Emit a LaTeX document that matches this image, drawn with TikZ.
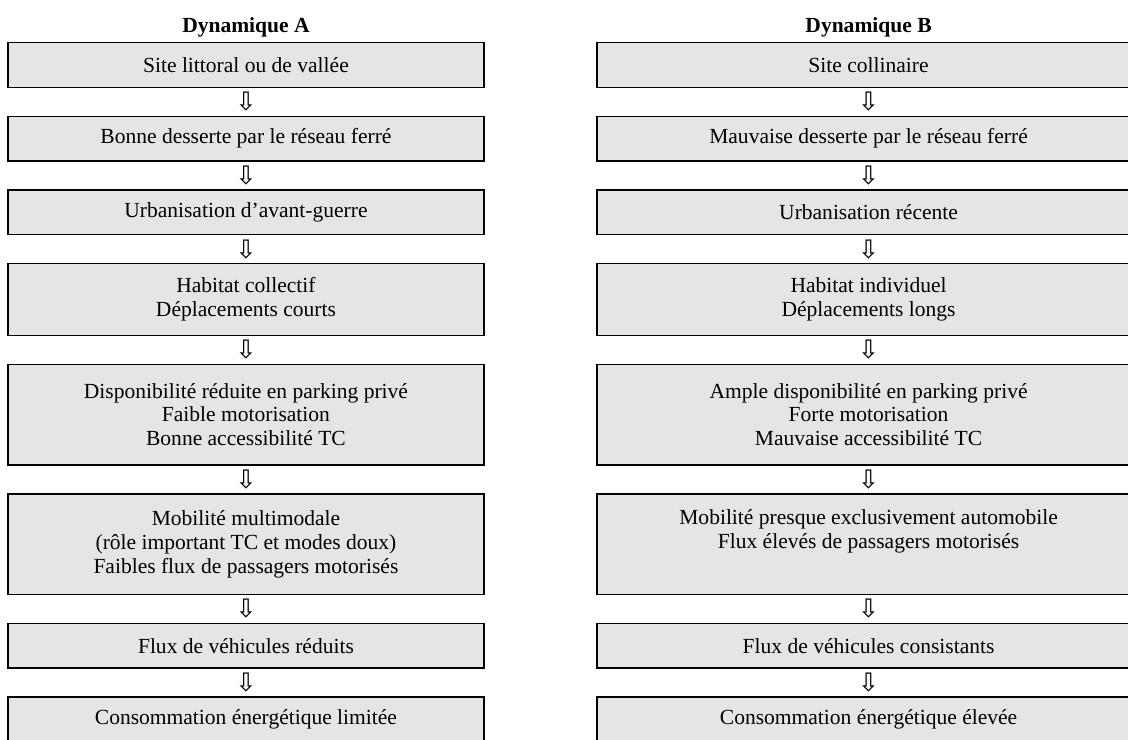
\documentclass[tikz,border=0pt]{standalone}
\usepackage{fontspec}
\setmainfont{Liberation Serif}
\newfontfamily\arrowfont{DejaVu Sans}
\usetikzlibrary{positioning}

\begin{document}
\begin{tikzpicture}[
    every node/.style={font=\fontsize{12.7}{14}\selectfont},
    box/.style={draw, line width=0.9pt, fill=black!10, align=center, inner sep=0pt, minimum height=0.925cm},
    boxA/.style={box, minimum width=9.87cm},
    boxB/.style={box, minimum width=11.26cm},
    two/.style={minimum height=1.487cm},
    three/.style={minimum height=2.086cm},
    title/.style={font=\fontsize{12.7}{14}\selectfont\bfseries, anchor=base},
    down/.style={font=\arrowfont\fontsize{15}{15}\selectfont, inner sep=0pt},
    node distance=0.570cm
]

\useasboundingbox (0,0) rectangle (23.39,-15.34);
\clip (0,0) rectangle (23.39,-15.34);

% Titles
\node[title] (tA) at (5.10,-0.664) {Dynamique A};
\node[title] (tB) at (18.01,-0.664) {Dynamique B};

% Dynamique A
\node[boxA, anchor=north] (a1) at (5.10,-0.87) {Site littoral ou de vallée};
\node[boxA, below=of a1] (a2) {Bonne desserte par le réseau ferré};
\node[boxA, below=of a2] (a3) {Urbanisation d’avant-guerre};
\node[boxA, two, below=of a3] (a4) {Habitat collectif\\Déplacements courts};
\node[boxA, three, below=of a4] (a5) {Disponibilité réduite en parking privé\\Faible motorisation\\Bonne accessibilité TC};
\node[boxA, three, below=of a5] (a6) {Mobilité multimodale\\(rôle important TC et modes doux)\\Faibles flux de passagers motorisés};
\node[boxA, below=of a6] (a7) {Flux de véhicules réduits};
\node[boxA, below=of a7] (a8) {Consommation énergétique limitée};

% Dynamique B
\node[boxB, anchor=north] (b1) at (18.01,-0.87) {Site collinaire};
\node[boxB, below=of b1] (b2) {Mauvaise desserte par le réseau ferré};
\node[boxB, below=of b2] (b3) {Urbanisation récente};
\node[boxB, two, below=of b3] (b4) {Habitat individuel\\Déplacements longs};
\node[boxB, three, below=of b4] (b5) {Ample disponibilité en parking privé\\Forte motorisation\\Mauvaise accessibilité TC};
\node[boxB, three, below=of b5] (b6) {Mobilité presque exclusivement automobile\\Flux élevés de passagers motorisés\\\strut};
\node[boxB, below=of b6] (b7) {Flux de véhicules consistants};
\node[boxB, below=of b7] (b8) {Consommation énergétique élevée};

% Arrows A
\path (a1.south) -- (a2.north) node[midway, down] (da1) {⇩};
\path (a2.south) -- (a3.north) node[midway, down] (da2) {⇩};
\path (a3.south) -- (a4.north) node[midway, down] (da3) {⇩};
\path (a4.south) -- (a5.north) node[midway, down] (da4) {⇩};
\path (a5.south) -- (a6.north) node[midway, down] (da5) {⇩};
\path (a6.south) -- (a7.north) node[midway, down] (da6) {⇩};
\path (a7.south) -- (a8.north) node[midway, down] (da7) {⇩};

% Arrows B
\path (b1.south) -- (b2.north) node[midway, down] (db1) {⇩};
\path (b2.south) -- (b3.north) node[midway, down] (db2) {⇩};
\path (b3.south) -- (b4.north) node[midway, down] (db3) {⇩};
\path (b4.south) -- (b5.north) node[midway, down] (db4) {⇩};
\path (b5.south) -- (b6.north) node[midway, down] (db5) {⇩};
\path (b6.south) -- (b7.north) node[midway, down] (db6) {⇩};
\path (b7.south) -- (b8.north) node[midway, down] (db7) {⇩};

\end{tikzpicture}
\end{document}
